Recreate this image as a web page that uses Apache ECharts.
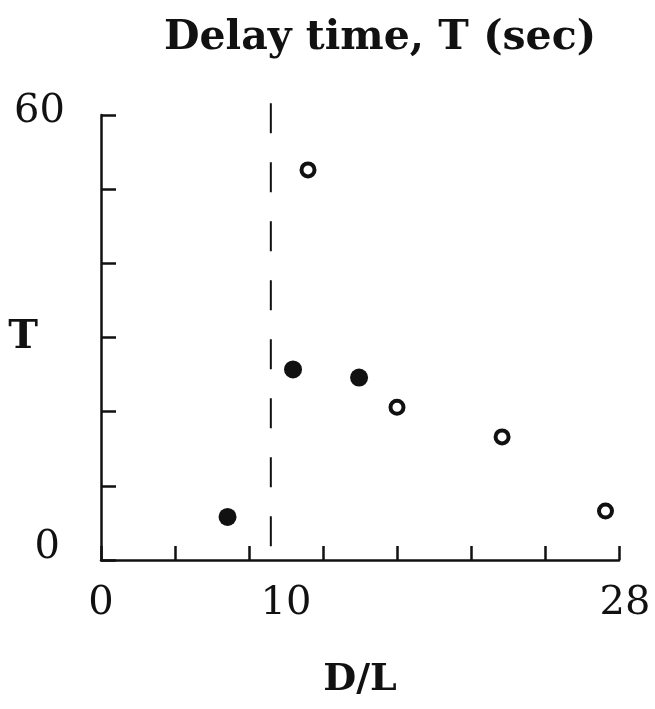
<!DOCTYPE html>
<html>
<head>
<meta charset="utf-8">
<script src="https://cdn.jsdelivr.net/npm/echarts@6/dist/echarts.min.js"></script>
<style>
html,body{margin:0;padding:0;background:#fff;overflow:hidden;}
#chart{width:655px;height:709px;}
</style>
</head>
<body>
<div id="chart"></div>
<script>
// ---- data ----
var titleText = 'Delay time, T (sec)';
var xName = 'D/L';
var yName = 'T';
var xTickLabels = [0, 10, 28];
var yTickLabels = [0, 30, 60];
var filledX = [6.84, 10.38, 13.95];
var filledY = [5.8, 25.7, 24.6];
var openX = [11.19, 16.0, 21.68, 27.27];
var openY = [52.6, 20.6, 16.6, 6.6];
var refLineX = [9.18, 9.18];
var refLineY = [61.6, 0.95];

var serif = '"DejaVu Serif", "Liberation Serif", serif';
var ink = '#111';

var chart = echarts.init(document.getElementById('chart'));
chart.setOption({
  backgroundColor: '#fff',
  animation: false,
  graphic: [{
    type: 'text',
    x: 380, y: 38,
    style: {
      text: titleText,
      font: 'bold 41px ' + serif,
      fill: ink,
      align: 'center',
      verticalAlign: 'middle'
    }
  }],
  grid: { left: 101, width: 518, top: 115, height: 445, containLabel: false },
  xAxis: {
    type: 'value', min: 0, max: 28, interval: 4,
    name: xName, nameLocation: 'middle', nameGap: 101,
    nameTextStyle: { fontFamily: serif, fontWeight: 'bold', fontSize: 38, color: ink },
    axisLine: { lineStyle: { color: ink, width: 2.5 } },
    axisTick: { inside: true, length: 14, lineStyle: { color: ink, width: 2.5 } },
    splitLine: { show: false },
    axisLabel: {
      customValues: xTickLabels,
      margin: 24,
      fontFamily: serif, fontSize: 40, color: ink,
      formatter: function (v) { return v === 28 ? '{r|28}' : '{n|' + v + '}'; },
      rich: {
        n: { fontFamily: serif, fontSize: 40, color: ink },
        r: { fontFamily: serif, fontSize: 40, color: ink, padding: [0, 0, 0, 12] }
      }
    }
  },
  yAxis: {
    type: 'value', min: 0, max: 60, interval: 10,
    axisLine: { lineStyle: { color: ink, width: 2.5 } },
    axisTick: { inside: true, length: 15, lineStyle: { color: ink, width: 2.5 } },
    splitLine: { show: false },
    axisLabel: {
      customValues: yTickLabels,
      margin: 36,
      formatter: function (v) {
        if (v === 0) return '{z|0}';
        if (v === 30) return '{t|' + yName + '}';
        return '{s|' + v + '}';
      },
      rich: {
        z: { fontFamily: serif, fontSize: 40, color: ink, padding: [0, 5, 24, 0] },
        t: { fontFamily: serif, fontWeight: 'bold', fontSize: 40, color: ink, padding: [0, 27, 0, 0] },
        s: { fontFamily: serif, fontSize: 40, color: ink, padding: [0, 0, 6, 0] }
      }
    }
  },
  series: [{
    type: 'line',
    clip: false,
    silent: true,
    showSymbol: false,
    symbol: 'none',
    lineStyle: { color: ink, width: 2, type: [30, 29] },
    data: refLineX.map(function (x, i) { return [x, refLineY[i]]; }),
    z: 1
  }, {
    type: 'scatter',
    clip: false,
    symbol: 'circle',
    symbolSize: 18,
    itemStyle: { color: ink, opacity: 1 },
    data: filledX.map(function (x, i) { return [x, filledY[i]]; }),
    z: 3
  }, {
    type: 'scatter',
    clip: false,
    symbol: 'circle',
    symbolSize: 13,
    itemStyle: { color: '#fff', borderColor: ink, borderWidth: 4, opacity: 1 },
    data: openX.map(function (x, i) { return [x, openY[i]]; }),
    z: 3
  }]
});
</script>
</body>
</html>
